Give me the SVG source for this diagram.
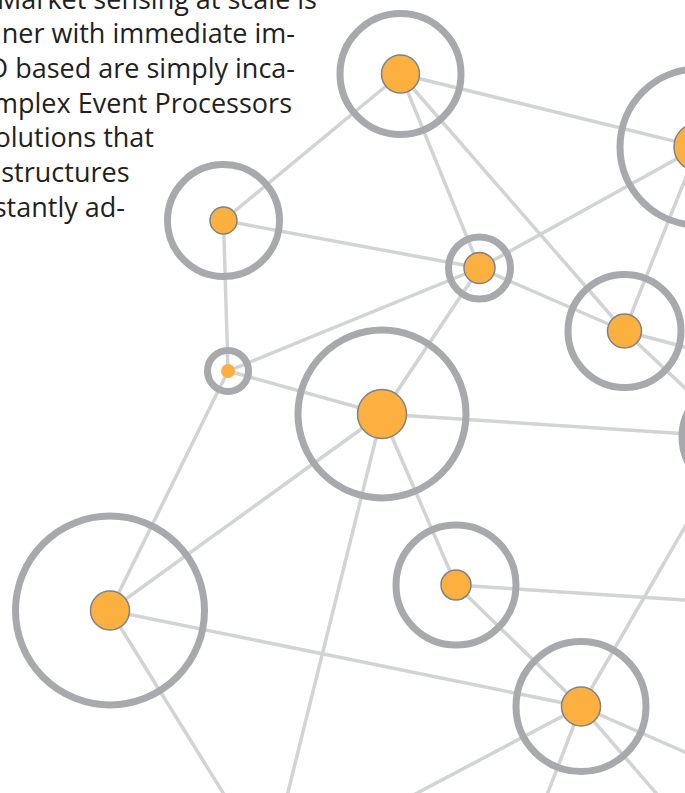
<svg xmlns="http://www.w3.org/2000/svg" width="685" height="793" viewBox="0 0 685 793">
<style>
.bg{fill:#ffffff}
.txt{font-family:"Open Sans","Liberation Sans",sans-serif;font-size:27px;fill:#231f20;text-anchor:end}
.edge{stroke:#d1d3d4;stroke-width:3.5;fill:none}
.ring{fill:none;stroke:#a7a9ac;stroke-width:7}
.core{fill:#fbb040;stroke:#808285;stroke-width:1.5}
</style>
<rect class="bg" x="0" y="0" width="685" height="793"/>
<g id="text">
<text class="txt" x="317" y="8.5">Market sensing at scale is</text>
<text class="txt" x="295" y="43.3">ner with immediate im-</text>
<text class="txt" x="295" y="78">D based are simply inca-</text>
<text class="txt" x="292" y="112.7">mplex Event Processors</text>
<text class="txt" x="154" y="147.4">olutions that</text>
<text class="txt" x="129.5" y="182">structures</text>
<text class="txt" x="125" y="216.8">stantly ad-</text>
</g>
<g id="connectors">
<line class="edge" x1="400.5" y1="74" x2="223.5" y2="220.5"/>
<line class="edge" x1="400.5" y1="74" x2="698" y2="147"/>
<line class="edge" x1="400.5" y1="74" x2="479.5" y2="268"/>
<line class="edge" x1="400.5" y1="74" x2="624.5" y2="331"/>
<line class="edge" x1="698" y1="147" x2="479.5" y2="268"/>
<line class="edge" x1="698" y1="147" x2="624.5" y2="331"/>
<line class="edge" x1="223.5" y1="220.5" x2="479.5" y2="268"/>
<line class="edge" x1="223.5" y1="220.5" x2="228" y2="371"/>
<line class="edge" x1="479.5" y1="268" x2="228" y2="371"/>
<line class="edge" x1="479.5" y1="268" x2="382" y2="414"/>
<line class="edge" x1="479.5" y1="268" x2="624.5" y2="331"/>
<line class="edge" x1="228" y1="371" x2="382" y2="414"/>
<line class="edge" x1="228" y1="371" x2="110" y2="610.5"/>
<line class="edge" x1="382" y1="414" x2="110" y2="610.5"/>
<line class="edge" x1="382" y1="414" x2="737" y2="437"/>
<line class="edge" x1="382" y1="414" x2="456" y2="585"/>
<line class="edge" x1="382" y1="414" x2="286" y2="800"/>
<line class="edge" x1="624.5" y1="331" x2="737" y2="437"/>
<line class="edge" x1="624.5" y1="331" x2="760" y2="367"/>
<line class="edge" x1="456" y1="585" x2="760" y2="605"/>
<line class="edge" x1="456" y1="585" x2="581" y2="706.5"/>
<line class="edge" x1="581" y1="706.5" x2="110" y2="610.5"/>
<line class="edge" x1="581" y1="706.5" x2="737" y2="437"/>
<line class="edge" x1="581" y1="706.5" x2="404" y2="800"/>
<line class="edge" x1="581" y1="706.5" x2="545" y2="800"/>
<line class="edge" x1="581" y1="706.5" x2="662" y2="800"/>
<line class="edge" x1="581" y1="706.5" x2="760" y2="785"/>
<line class="edge" x1="110" y1="610.5" x2="227.5" y2="800"/>
</g>
<g id="node-a"><circle class="ring" cx="400.5" cy="74" r="60.5"/><circle class="core" cx="400.5" cy="74" r="19"/></g>
<g id="node-b"><circle class="ring" cx="698" cy="147" r="78"/><circle class="core" cx="698" cy="147" r="24"/></g>
<g id="node-c"><circle class="ring" cx="223.5" cy="220.5" r="56"/><circle class="core" cx="223.5" cy="220.5" r="13.5"/></g>
<g id="node-d"><circle class="ring" cx="479.5" cy="268" r="31"/><circle class="core" cx="479.5" cy="268" r="15.5"/></g>
<g id="node-e"><circle class="ring" cx="228" cy="371" r="20.5"/><circle cx="228" cy="371" r="7" fill="#fbb040"/></g>
<g id="node-f"><circle class="ring" cx="382" cy="414" r="84"/><circle class="core" cx="382" cy="414" r="24.5"/></g>
<g id="node-g"><circle class="ring" cx="624.5" cy="331" r="56.5"/><circle class="core" cx="624.5" cy="331" r="17"/></g>
<g id="node-h"><circle class="ring" cx="737" cy="437" r="55"/></g>
<g id="node-i"><circle class="ring" cx="456" cy="585" r="60"/><circle class="core" cx="456" cy="585" r="15"/></g>
<g id="node-j"><circle class="ring" cx="581" cy="706.5" r="65"/><circle class="core" cx="581" cy="706.5" r="19.5"/></g>
<g id="node-k"><circle class="ring" cx="110" cy="610.5" r="94.5"/><circle class="core" cx="110" cy="610.5" r="19.5"/></g>
</svg>
